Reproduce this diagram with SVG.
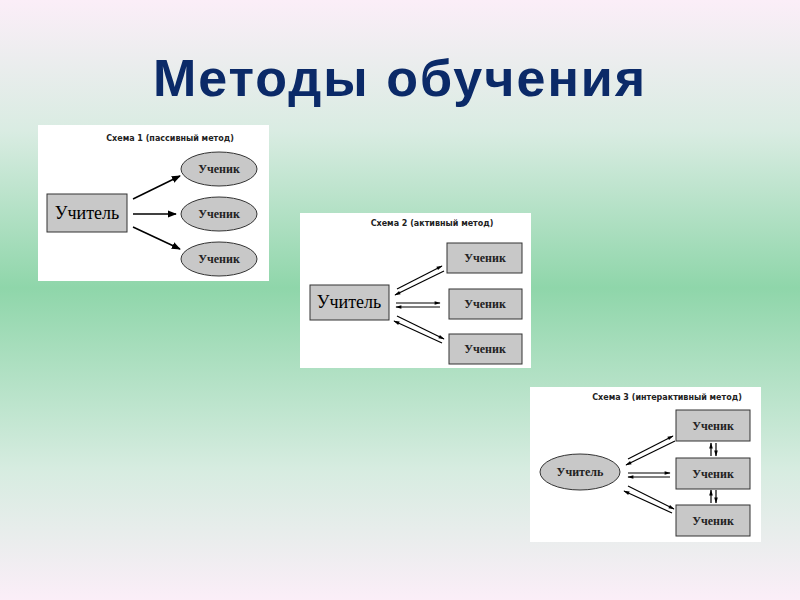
<svg xmlns="http://www.w3.org/2000/svg" width="800" height="600" viewBox="0 0 800 600">
<defs>
<linearGradient id="bg" x1="0" y1="0" x2="0" y2="1">
<stop offset="0" stop-color="#fbeef8"/><stop offset="0.22" stop-color="#d9ece2"/><stop offset="0.48" stop-color="#8fd6aa"/><stop offset="0.78" stop-color="#d6ece0"/><stop offset="1" stop-color="#fbeef8"/>
</linearGradient>
<marker id="ah" viewBox="0 0 10 10" refX="9" refY="5" markerWidth="6" markerHeight="6" orient="auto"><path d="M0,1 L10,5 L0,9 z" fill="#000"/></marker>
<marker id="as" viewBox="0 0 10 10" refX="9" refY="5" markerWidth="7" markerHeight="5" orient="auto"><path d="M0,2 L10,5 L0,8 z" fill="#000"/></marker>
</defs>
<style>
.pn{fill:#fff}
.bx{fill:#c8c8c8;stroke:#333;stroke-width:1}
.st{font-family:"Liberation Serif",serif;font-size:12px;font-weight:bold;text-anchor:middle;fill:#222}
.tt{font-family:"Liberation Serif",serif;font-size:18px;text-anchor:middle}
.cap{font-family:"DejaVu Sans",sans-serif;font-size:8px;text-anchor:middle;font-weight:bold;fill:#222}
.a{stroke:#000;stroke-width:1.5;marker-end:url(#ah)}
.d{stroke:#000;stroke-width:1.2;marker-end:url(#as)}
</style>
<rect width="800" height="600" fill="url(#bg)"/>
<text x="400" y="96" font-family="Liberation Sans,sans-serif" font-size="52" font-weight="bold" letter-spacing="2" fill="#0b2a68" text-anchor="middle">Методы обучения</text>

<g id="scheme1">
<rect class="pn" x="38" y="125" width="231" height="156"/>
<text class="cap" x="170" y="141">Схема 1 (пассивный метод)</text>
<g id="s1-teacher"><rect class="bx" x="47" y="194" width="80" height="38"/><text class="tt" x="87" y="219">Учитель</text></g>
<g id="s1-st1"><ellipse class="bx" cx="219" cy="169" rx="38" ry="17"/><text class="st" x="219" y="173">Ученик</text></g>
<g id="s1-st2"><ellipse class="bx" cx="219" cy="214" rx="38" ry="17"/><text class="st" x="219" y="218">Ученик</text></g>
<g id="s1-st3"><ellipse class="bx" cx="219" cy="259" rx="38" ry="17"/><text class="st" x="219" y="263">Ученик</text></g>
</g>

<g id="scheme2">
<rect class="pn" x="300" y="213" width="231" height="155"/>
<text class="cap" x="432" y="226">Схема 2 (активный метод)</text>
<g id="s2-teacher"><rect class="bx" x="310" y="285" width="79" height="35"/><text class="tt" x="349" y="308">Учитель</text></g>
<g id="s2-st1"><rect class="bx" x="447" y="243" width="75" height="30"/><text class="st" x="485" y="262">Ученик</text></g>
<g id="s2-st2"><rect class="bx" x="449" y="289" width="73" height="30"/><text class="st" x="485" y="308">Ученик</text></g>
<g id="s2-st3"><rect class="bx" x="449" y="334" width="73" height="30"/><text class="st" x="485" y="353">Ученик</text></g>
</g>

<g id="scheme3">
<rect class="pn" x="530" y="387" width="231" height="155"/>
<text class="cap" x="667" y="400">Схема 3 (интерактивный метод)</text>
<g id="s3-teacher"><ellipse class="bx" cx="580" cy="472" rx="40" ry="18"/><text class="st" x="580" y="476">Учитель</text></g>
<g id="s3-st1"><rect class="bx" x="676" y="410" width="74" height="31"/><text class="st" x="713" y="430">Ученик</text></g>
<g id="s3-st2"><rect class="bx" x="676" y="458" width="74" height="31"/><text class="st" x="713" y="478">Ученик</text></g>
<g id="s3-st3"><rect class="bx" x="676" y="505" width="74" height="31"/><text class="st" x="713" y="525">Ученик</text></g>
</g>

<g id="connectors">
<line class="a" x1="133" y1="199" x2="180" y2="176"/>
<line class="a" x1="133" y1="214" x2="176" y2="214"/>
<line class="a" x1="133" y1="227" x2="180" y2="249"/>

<line class="d" x1="397" y1="289" x2="442" y2="266"/>
<line class="d" x1="444" y1="271" x2="395" y2="295"/>
<line class="d" x1="396" y1="303" x2="440" y2="303"/>
<line class="d" x1="440" y1="307" x2="396" y2="307"/>
<line class="d" x1="397" y1="316" x2="444" y2="339"/>
<line class="d" x1="442" y1="343" x2="394" y2="321"/>

<line class="d" x1="628" y1="459" x2="673" y2="436"/>
<line class="d" x1="675" y1="441" x2="626" y2="465"/>
<line class="d" x1="628" y1="473" x2="670" y2="473"/>
<line class="d" x1="670" y1="477" x2="628" y2="477"/>
<line class="d" x1="628" y1="486" x2="674" y2="509"/>
<line class="d" x1="672" y1="513" x2="624" y2="491"/>

<line class="d" x1="711" y1="456" x2="711" y2="443"/>
<line class="d" x1="716" y1="443" x2="716" y2="456"/>
<line class="d" x1="711" y1="503" x2="711" y2="490"/>
<line class="d" x1="716" y1="490" x2="716" y2="503"/>
</g>
</svg>
